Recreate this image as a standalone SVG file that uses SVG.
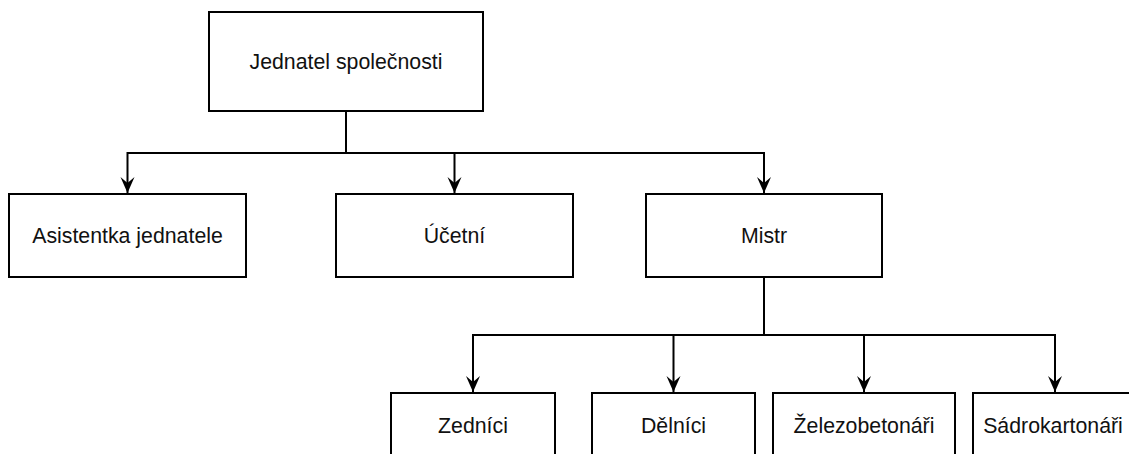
<svg xmlns="http://www.w3.org/2000/svg" width="1129" height="454" viewBox="0 0 1129 454">
<style>
.box{fill:#fff;stroke:#000;stroke-width:2}
.lbl{font-family:"Liberation Sans",Arial,sans-serif;font-size:21.3px;fill:#111;text-anchor:middle;dominant-baseline:central}
.edge{fill:none;stroke:#000;stroke-width:2;marker-end:url(#arr)}
</style>
<defs>
<marker id="arr" markerUnits="userSpaceOnUse" markerWidth="18" markerHeight="16" refX="16" refY="7" orient="auto">
<path d="M16,7 L0,0 L6,7 L0,14 Z" fill="#000"/>
</marker>
</defs>
<rect width="1129" height="454" fill="#fff"/>
<g id="connectors">
<path class="edge" d="M346,111 V153 H127.5 V193"/>
<path class="edge" d="M346,111 V153 H454.5 V193"/>
<path class="edge" d="M346,111 V153 H764 V193"/>
<path class="edge" d="M764,277 V335 H473 V392"/>
<path class="edge" d="M764,277 V335 H673.5 V392"/>
<path class="edge" d="M764,277 V335 H864 V392"/>
<path class="edge" d="M764,277 V335 H1055 V392"/>
</g>
<g id="n-jednatel"><rect class="box" x="209" y="12" width="274" height="99"/><text class="lbl" x="346" y="62">Jednatel společnosti</text></g>
<g id="n-asistentka"><rect class="box" x="9" y="194" width="237" height="83"/><text class="lbl" x="127.5" y="235.5">Asistentka jednatele</text></g>
<g id="n-ucetni"><rect class="box" x="336" y="194" width="237" height="83"/><text class="lbl" x="454.5" y="235.5">Účetní</text></g>
<g id="n-mistr"><rect class="box" x="646" y="194" width="236" height="83"/><text class="lbl" x="764" y="235.5">Mistr</text></g>
<g id="n-zednici"><rect class="box" x="391" y="393" width="164" height="83"/><text class="lbl" x="473" y="426">Zedníci</text></g>
<g id="n-delnici"><rect class="box" x="592" y="393" width="163" height="83"/><text class="lbl" x="673.5" y="426">Dělníci</text></g>
<g id="n-zelezobetonari"><rect class="box" x="773" y="393" width="182" height="83"/><text class="lbl" x="864" y="426">Železobetonáři</text></g>
<g id="n-sadrokartonari"><rect class="box" x="973" y="393" width="164" height="83"/><text class="lbl" x="1053" y="426">Sádrokartonáři</text></g>
</svg>
